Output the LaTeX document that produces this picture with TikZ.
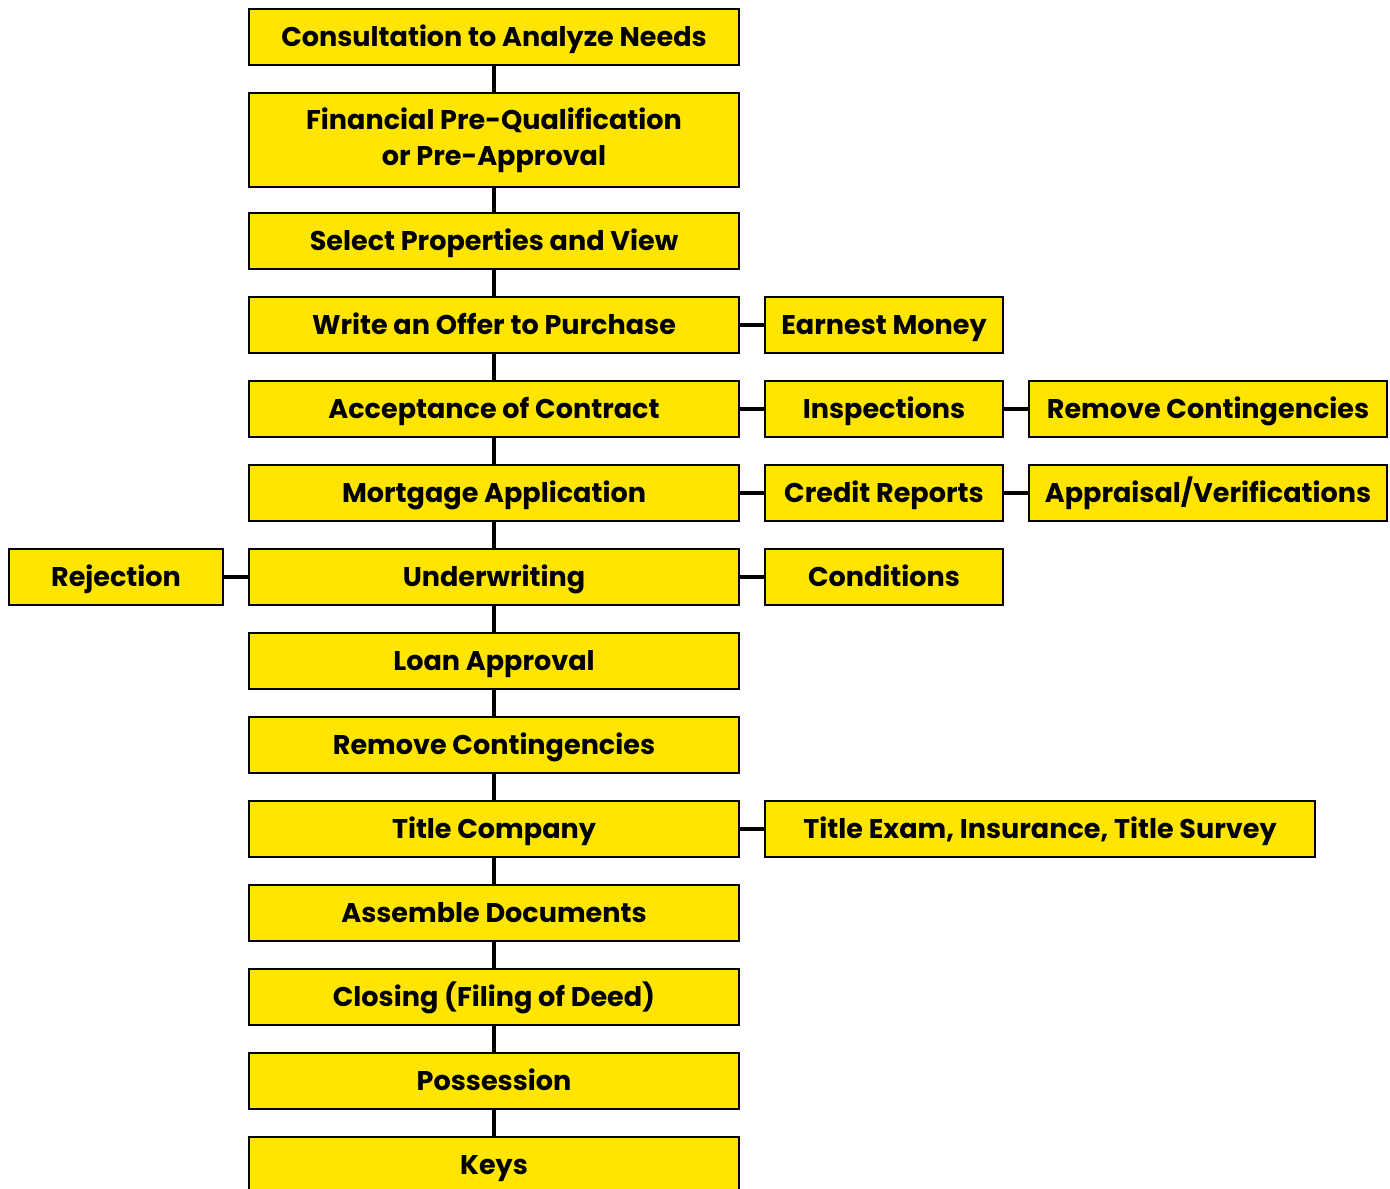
\documentclass[tikz,border=0pt]{standalone}
\usepackage{fontspec}
\setmainfont{Poppins}
\definecolor{boxyellow}{HTML}{FFE500}
\begin{document}
\begin{tikzpicture}[x=.02cm,y=-.02cm,line join=miter,
  font=\bfseries\fontsize{15.4}{20.5}\selectfont,
  stepbox/.style={draw,line width=1.4pt,fill=boxyellow,minimum height=1.12cm,inner sep=0pt,align=center,text height=10.8pt,text depth=0pt},
  mainbox/.style={stepbox,minimum width=9.8cm},
  sidebox/.style={stepbox,minimum width=4.76cm},
  farbox/.style={stepbox,minimum width=7.16cm},
  link/.style={line width=2.4pt}]
\useasboundingbox (0,0) rectangle (1390,1189);
\clip (0,0) rectangle (1390,1189);
% main column
\node[mainbox] (consult) at (494,37) {Consultation to Analyze Needs};
\node[mainbox,minimum height=1.88cm,text height=,text depth=] (prequal) at (494,140) {Financial Pre-Qualification\\or Pre-Approval};
\node[mainbox] (select) at (494,241) {Select Properties and View};
\node[mainbox] (offer) at (494,325) {Write an Offer to Purchase};
\node[mainbox] (accept) at (494,409) {Acceptance of Contract};
\node[mainbox] (mortgage) at (494,493) {Mortgage Application};
\node[mainbox] (underw) at (494,577) {Underwriting};
\node[mainbox] (loan) at (494,661) {Loan Approval};
\node[mainbox] (remove) at (494,745) {Remove Contingencies};
\node[mainbox] (title) at (494,829) {Title Company};
\node[mainbox] (assemble) at (494,913) {Assemble Documents};
\node[mainbox] (closing) at (494,997) {Closing (Filing of Deed)};
\node[mainbox] (possess) at (494,1081) {Possession};
\node[mainbox] (keys) at (494,1165) {Keys};
% side boxes
\node[sidebox] (earnest) at (884,325) {Earnest Money};
\node[sidebox] (inspect) at (884,409) {Inspections};
\node[farbox] (removec) at (1208,409) {Remove Contingencies};
\node[sidebox] (credit) at (884,493) {Credit Reports};
\node[farbox] (apprais) at (1208,493) {Appraisal/Verifications};
\node[sidebox] (cond) at (884,577) {Conditions};
\node[stepbox,minimum width=4.28cm] (reject) at (116,577) {Rejection};
\node[stepbox,minimum width=11cm] (exam) at (1040,829) {Title Exam, Insurance, Title Survey};
% connectors
\foreach \a/\b in {consult/prequal,prequal/select,select/offer,offer/accept,accept/mortgage,mortgage/underw,underw/loan,loan/remove,remove/title,title/assemble,assemble/closing,closing/possess,possess/keys}
  \draw[link] (\a.south) -- (\b.north);
\foreach \a/\b in {offer/earnest,accept/inspect,inspect/removec,mortgage/credit,credit/apprais,underw/cond,title/exam}
  \draw[link] (\a.east) -- (\b.west);
\draw[link] (underw.west) -- (reject.east);
\end{tikzpicture}
\end{document}
